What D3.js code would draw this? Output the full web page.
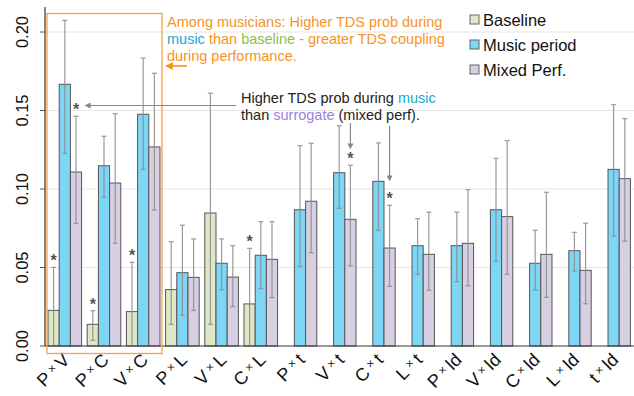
<!DOCTYPE html>
<html><head><meta charset="utf-8">
<script src="https://cdn.jsdelivr.net/npm/d3@7"></script>
<style>body{margin:0;background:#fff}svg{display:block;font-family:"Liberation Sans",Arial,sans-serif}</style>
</head><body><svg id="c" width="634" height="396"></svg>
<script>
const pairsA = ["P","P","V","P","V","C","P","V","C","L","P","V","C","L","t"];
const pairsB = ["V","C","C","L","L","L","t","t","t","t","ld","ld","ld","ld","ld"];
const categories = pairsA.map((a,i)=>a+"×"+pairsB[i]);
const baseline   = [0.0227,0.0138,0.0219,0.0359,0.0847,0.0268,null,null,null,null,null,null,null,null,null];
const baselineLo = [0.000,0.0036,0.000,0.0138,0.0138,0.000,null,null,null,null,null,null,null,null,null];
const baselineHi = [0.0501,0.0225,0.0533,0.0664,0.1610,0.0622,null,null,null,null,null,null,null,null,null];
const music   = [0.1667,0.1148,0.1476,0.0467,0.0527,0.0578,0.0868,0.1104,0.1049,0.0639,0.0639,0.0868,0.0527,0.0607,0.1125];
const musicLo = [0.1227,0.0947,0.1125,0.0197,0.0359,0.0365,0.0505,0.0877,0.0737,0.0457,0.0410,0.0539,0.0357,0.0478,0.0701];
const musicHi = [0.2074,0.1336,0.1834,0.0769,0.0682,0.0792,0.1276,0.1403,0.1293,0.0811,0.0852,0.1195,0.0737,0.0724,0.1537];
const mixed   = [0.1108,0.1038,0.1268,0.0437,0.0439,0.0552,0.0922,0.0807,0.0624,0.0584,0.0654,0.0824,0.0584,0.0482,0.1066];
const mixedLo = [0.0781,0.0654,0.0866,0.0227,0.0250,0.0308,0.0594,0.0510,0.0380,0.0355,0.0384,0.0457,0.0310,0.0269,0.0667];
const mixedHi = [0.1463,0.1480,0.1737,0.0682,0.0639,0.0792,0.1291,0.1151,0.0896,0.0852,0.0996,0.1308,0.0979,0.0782,0.1448];
const seriesNames = ["Baseline","Music period","Mixed Perf."];
const yTicks = [0,0.05,0.10,0.15,0.20];
// significance stars: [groupIndex, seriesIndex]
const stars = [[0,0],[1,0],[2,0],[5,0],[0,2],[7,2],[8,2]];

const colors = ["#dfe8c6","#7ed6f5","#d9cfe2"];
const svg = d3.select("#c");
const x0 = 45, yBase = 346;
const x = d3.scaleBand().domain(categories).range([x0, 633.4]).paddingInner(0.143).paddingOuter(0.0765);
const xs = d3.scaleBand().domain([0,1,2]).range([0, x.bandwidth()]);
const y = d3.scaleLinear().domain([0,0.2]).range([yBase, 32]);

// gridlines
svg.append("g").selectAll("line").data(yTicks.slice(1)).join("line")
  .attr("x1",x0).attr("x2",634).attr("y1",d=>y(d)).attr("y2",d=>y(d))
  .attr("stroke","#e6e6e6").attr("stroke-width",1.2);

// y axis ticks + labels
svg.append("g").selectAll("line").data(yTicks).join("line")
  .attr("x1",40).attr("x2",x0).attr("y1",d=>y(d)).attr("y2",d=>y(d))
  .attr("stroke","#555").attr("stroke-width",1);
svg.append("g").selectAll("text").data(yTicks).join("text")
  .attr("transform",d=>`translate(28,${y(d)}) rotate(-90)`)
  .attr("text-anchor","middle").attr("font-size",16.5).attr("fill","#111")
  .text(d=>d3.format(".2f")(d));

const series = [
  {v:baseline,lo:baselineLo,hi:baselineHi},
  {v:music,lo:musicLo,hi:musicHi},
  {v:mixed,lo:mixedLo,hi:mixedHi}
];
const gBars = svg.append("g");
series.forEach((s,si)=>{
  const data = categories.map((c,i)=>({c,i,v:s.v[i],lo:s.lo[i],hi:s.hi[i]})).filter(d=>d.v!=null);
  gBars.selectAll(null).data(data).join("rect")
    .attr("x",d=>x(d.c)+xs(si)).attr("width",xs.bandwidth())
    .attr("y",d=>y(d.v)).attr("height",d=>y(0)-y(d.v))
    .attr("fill",colors[si]).attr("stroke","#555").attr("stroke-width",1);
});
const gErr = svg.append("g").attr("stroke","#8a8a8a").attr("stroke-width",1.2).attr("opacity",0.85);
series.forEach((s,si)=>{
  const data = categories.map((c,i)=>({c,i,v:s.v[i],lo:s.lo[i],hi:s.hi[i]})).filter(d=>d.v!=null);
  const cx = d=>x(d.c)+xs(si)+xs.bandwidth()/2;
  gErr.selectAll(null).data(data).join("line")
    .attr("x1",cx).attr("x2",cx).attr("y1",d=>y(d.lo)).attr("y2",d=>y(d.hi));
  gErr.selectAll(null).data(data).join("line")
    .attr("x1",d=>cx(d)-2.5).attr("x2",d=>cx(d)+2.5).attr("y1",d=>y(d.hi)).attr("y2",d=>y(d.hi));
  gErr.selectAll(null).data(data.filter(d=>d.lo>0)).join("line")
    .attr("x1",d=>cx(d)-2.5).attr("x2",d=>cx(d)+2.5).attr("y1",d=>y(d.lo)).attr("y2",d=>y(d.lo));
});

// axes lines
svg.append("line").attr("x1",x0).attr("x2",x0).attr("y1",7).attr("y2",yBase).attr("stroke","#333").attr("stroke-width",1.2);
svg.append("line").attr("x1",x0).attr("x2",634).attr("y1",yBase).attr("y2",yBase).attr("stroke","#333").attr("stroke-width",1.2);

// x labels
const xl = svg.append("g").selectAll("text").data(categories).join("text")
  .attr("transform",(d)=>`translate(${x(d)+x.bandwidth()/2+6},${yBase+15}) rotate(-45)`)
  .attr("text-anchor","end").attr("font-size",18).attr("fill","#111");
xl.each(function(d,i){
  const t=d3.select(this);
  t.append("tspan").text(pairsA[i]);
  t.append("tspan").attr("font-size",12).attr("dy",-4).text(" × ");
  t.append("tspan").attr("dy",4).text(pairsB[i]);
});

// stars
svg.append("g").selectAll("text").data(stars).join("text")
  .attr("x",d=>x(categories[d[0]])+xs(d[1])+xs.bandwidth()/2)
  .attr("y",d=>y(series[d[1]].hi[d[0]])-1)
  .attr("text-anchor","middle").attr("font-size",16).attr("font-weight","bold").attr("fill","#555")
  .text("*");

// orange box
const boxL = x(categories[0])-1, boxR = x(categories[2])+x.bandwidth()+2;
svg.append("rect").attr("x",boxL).attr("y",13.5).attr("width",boxR-boxL).attr("height",353.5-13.5)
  .attr("fill","none").attr("stroke","#f7a23a").attr("stroke-width",1.3);
const orange="#f7931e", blueT="#1ba8d0", greenT="#8cc04a", purpT="#9b7fe0";
const ann = svg.append("g").attr("font-size",14.5).attr("fill",orange);
ann.append("text").attr("x",167).attr("y",27).text("Among musicians: Higher TDS prob during");
const l2 = ann.append("text").attr("x",167).attr("y",44);
l2.append("tspan").attr("fill",blueT).text("music");
l2.append("tspan").text(" than ");
l2.append("tspan").attr("fill",greenT).text("baseline");
l2.append("tspan").text(" - greater TDS coupling");
ann.append("text").attr("x",167).attr("y",61).text("during performance.");
svg.append("defs").html(`<marker id="ao" viewBox="0 0 10 10" refX="1" refY="5" markerWidth="5" markerHeight="5" orient="auto-start-reverse"><path d="M0,0L10,5L0,10z" fill="${orange}"/></marker>
<marker id="ag" viewBox="0 0 10 10" refX="1" refY="5" markerWidth="5" markerHeight="5" orient="auto-start-reverse"><path d="M0,0L10,5L0,10z" fill="#888"/></marker>`);
svg.append("line").attr("x1",187).attr("x2",172).attr("y1",66).attr("y2",66).attr("stroke",orange).attr("stroke-width",1.6).attr("marker-end","url(#ao)");

// second annotation
const a2 = svg.append("g").attr("font-size",14.5).attr("fill","#222");
const m1 = a2.append("text").attr("x",241).attr("y",103);
m1.append("tspan").text("Higher TDS prob during ");
m1.append("tspan").attr("fill",blueT).text("music");
const m2 = a2.append("text").attr("x",241).attr("y",120);
m2.append("tspan").text("than ");
m2.append("tspan").attr("fill",purpT).text("surrogate");
m2.append("tspan").text(" (mixed perf).");
svg.append("line").attr("x1",236).attr("x2",90).attr("y1",105.5).attr("y2",105.5).attr("stroke","#888").attr("stroke-width",1.2).attr("marker-end","url(#ag)");
const cxV = x(categories[7])+xs(2)+xs.bandwidth()/2;
const cxC = x(categories[8])+xs(2)+xs.bandwidth()/2;
svg.append("line").attr("x1",cxV).attr("x2",cxV).attr("y1",123).attr("y2",144).attr("stroke","#888").attr("stroke-width",1.2).attr("marker-end","url(#ag)");
svg.append("line").attr("x1",cxC).attr("x2",cxC).attr("y1",126).attr("y2",176).attr("stroke","#888").attr("stroke-width",1.2).attr("marker-end","url(#ag)");

// legend
const lg = svg.append("g");
seriesNames.forEach((n,i)=>{
  const cy = 19.5 + i*25;
  lg.append("rect").attr("x",470).attr("y",cy-4.5).attr("width",9).attr("height",9).attr("fill",colors[i]).attr("stroke","#666");
  lg.append("text").attr("x",483).attr("y",cy+6).attr("font-size",16.5).attr("fill","#111").text(n);
});
</script></body></html>
